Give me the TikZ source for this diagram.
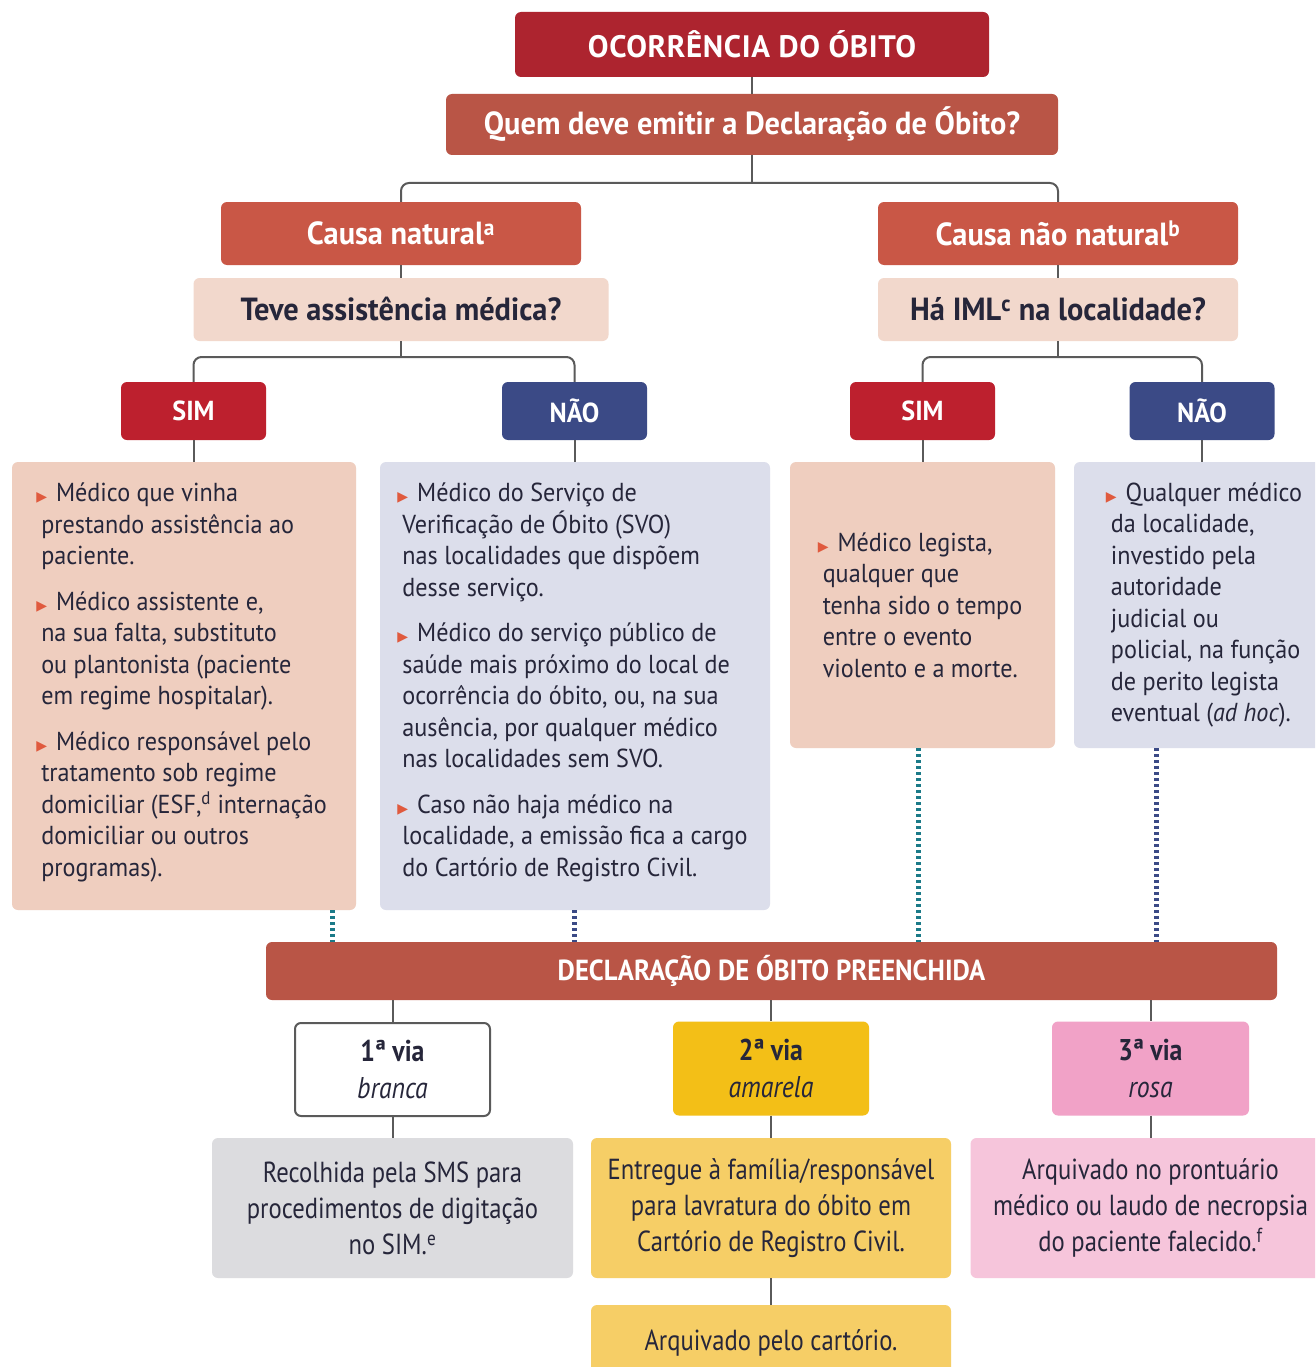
\documentclass[tikz,border=0pt]{standalone}
\usepackage{fontspec}
\setmainfont{PT Sans}
\newfontfamily\bodyf[FakeStretch=0.93]{PT Sans}
\newfontfamily\headf[FakeStretch=0.95]{PT Sans}
\newfontfamily\capsf[LetterSpace=2]{PT Sans}
\newfontfamily\declf[FakeStretch=0.92]{PT Sans}
\newfontfamily\viaf[FakeStretch=0.86]{PT Sans}
\newfontfamily\condf[FakeStretch=0.85]{PT Sans}
\newfontfamily\symf{DejaVu Sans}
\definecolor{cOcorr}{HTML}{AD242F}
\definecolor{cQuem}{HTML}{B95546}
\definecolor{cCausa}{HTML}{C95746}
\definecolor{cQuest}{HTML}{F2D8CC}
\definecolor{cSim}{HTML}{BD202E}
\definecolor{cNao}{HTML}{3B4A86}
\definecolor{cPinkBox}{HTML}{EFCEBF}
\definecolor{cBlueBox}{HTML}{DCDEEB}
\definecolor{cVia2}{HTML}{F3BF17}
\definecolor{cVia3}{HTML}{F1A2C7}
\definecolor{cGreyBox}{HTML}{DCDCDF}
\definecolor{cYelBox}{HTML}{F6CE66}
\definecolor{cRoseBox}{HTML}{F6C5DB}
\definecolor{cText}{HTML}{26263A}
\definecolor{cBul}{HTML}{E05A3E}
\definecolor{cTeal}{HTML}{1B7A88}
\definecolor{cLine}{HTML}{5A5A5A}
\newcommand{\bul}{\hspace*{-5pt}{\symf\fontsize{14}{14}\selectfont\textcolor{cBul}{▶}}\hspace{9pt}}
\newcommand{\pgap}{\\[14pt]}
\newcommand{\liftup}{\\[-19pt]\mbox{}}
\begin{document}
\begin{tikzpicture}[x=1pt,y=-1pt,
  box/.style={rounded corners=6pt, inner sep=0pt, align=center},
  hdr/.style={box, text=white, font=\headf\bfseries\fontsize{32}{36}\selectfont},
  quest/.style={box, fill=cQuest, text=cText, font=\headf\bfseries\fontsize{32}{36}\selectfont},
  yn/.style={box, text=white, minimum width=145pt, minimum height=58pt, font=\headf\bfseries\fontsize{27.5}{30}\selectfont},
  content/.style={box, align=left, text=cText, font=\bodyf\fontsize{26}{31.5}\selectfont},
  via/.style={box, text=cText, minimum height=94pt, font=\viaf\fontsize{30}{37}\selectfont},
  dest/.style={box, text=cText, minimum width=360pt, minimum height=140pt, font=\condf\fontsize{29}{36}\selectfont},
  conn/.style={draw=cLine, line width=2pt},
  dotsT/.style={draw=cTeal, line width=5pt, dash pattern=on 3pt off 3pt},
  dotsN/.style={draw=cNao, line width=5pt, dash pattern=on 3pt off 3pt}
]
\clip (0,0) rectangle (1315,1367);
\fill[white] (0,0) rectangle (1315,1367);

% top
\node[hdr, fill=cOcorr, minimum width=474pt, minimum height=65pt, font=\capsf\bfseries\fontsize{31}{36}\selectfont] (ocorr) at (752,44.5) {OCORRÊNCIA DO ÓBITO};
\node[hdr, fill=cQuem, minimum width=612pt, minimum height=61pt] (quem) at (752,124.5) {Quem deve emitir a Declaração de Óbito?};
\node[hdr, fill=cCausa, minimum width=360pt, minimum height=63pt] (causaN) at (401,233.5) {Causa natural\textsuperscript{a}};
\node[hdr, fill=cCausa, minimum width=360pt, minimum height=63pt] (causaNN) at (1058,233.5) {Causa não natural\textsuperscript{b}};
\node[quest, minimum width=415pt, minimum height=63pt] (teve) at (401,309.5) {Teve assistência médica?};
\node[quest, minimum width=360pt, minimum height=63pt] (iml) at (1058,309.5) {Há IML\textsuperscript{c} na localidade?};

\node[yn, fill=cSim] (sim1) at (193.5,411) {SIM};
\node[yn, fill=cNao] (nao1) at (574.5,411) {NÃO};
\node[yn, fill=cSim] (sim2) at (922.5,411) {SIM};
\node[yn, fill=cNao] (nao2) at (1202,411) {NÃO};

\node[content, fill=cPinkBox, minimum width=344pt, minimum height=448pt] (c1) at (184,686) {%
\bul Médico que vinha\\
prestando assistência ao\\
paciente.\pgap
\bul Médico assistente e,\\
na sua falta, substituto\\
ou plantonista (paciente\\
em regime hospitalar).\pgap
\bul Médico responsável pelo\\
tratamento sob regime\\
domiciliar (ESF,\textsuperscript{d} internação\\
domiciliar ou outros\\
programas).\liftup};

\node[content, fill=cBlueBox, minimum width=390pt, minimum height=448pt] (c2) at (575,686) {%
\bul Médico do Serviço de\\
Verificação de Óbito (SVO)\\
nas localidades que dispõem\\
desse serviço.\pgap
\bul Médico do serviço público de\\
saúde mais próximo do local de\\
ocorrência do óbito, ou, na sua\\
ausência, por qualquer médico\\
nas localidades sem SVO.\pgap
\bul Caso não haja médico na\\
localidade, a emissão fica a cargo\\
do Cartório de Registro Civil.\liftup};

\node[content, fill=cPinkBox, minimum width=265pt, minimum height=286pt] (c3) at (922.5,605) {%
\bul Médico legista,\\
qualquer que\\
tenha sido o tempo\\
entre o evento\\
violento e a morte.};

\node[content, fill=cBlueBox, minimum width=265pt, minimum height=286pt] (c4) at (1206.5,605) {%
\bul Qualquer médico\\
da localidade,\\
investido pela\\
autoridade\\
judicial ou\\
policial, na função\\
de perito legista\\
eventual (\textit{ad hoc}).};

\node[hdr, fill=cQuem, minimum width=1011pt, minimum height=58pt, font=\declf\bfseries\fontsize{29}{32}\selectfont] (decl) at (771.5,971) {DECLARAÇÃO DE ÓBITO PREENCHIDA};

\node[via, fill=white, draw=cLine, line width=2pt, minimum width=195pt, minimum height=93pt] (v1) at (392.5,1069.5) {\textbf{1ª via}\\ \textit{branca}};
\node[via, fill=cVia2, minimum width=196pt] (v2) at (771,1068.5) {\textbf{2ª via}\\ \textit{amarela}};
\node[via, fill=cVia3, minimum width=197pt] (v3) at (1150.5,1068.5) {\textbf{3ª via}\\ \textit{rosa}};

\node[dest, fill=cGreyBox, minimum width=361pt] (b1) at (392.5,1208) {Recolhida pela SMS para\\ procedimentos de digitação\\ no SIM.\textsuperscript{e}};
\node[dest, fill=cYelBox] (b2) at (771,1208) {Entregue à família/responsável\\ para lavratura do óbito em\\ Cartório de Registro Civil.};
\node[dest, fill=cRoseBox] (b3) at (1150.5,1208) {Arquivado no prontuário\\ médico ou laudo de necropsia\\ do paciente falecido.\textsuperscript{f}};
\node[dest, fill=cYelBox, minimum height=70pt, text depth=0pt] (b4) at (771,1340) {Arquivado pelo cartório.};

% junction coordinates
\coordinate (j1) at (752,183);
\coordinate (j2) at (401,357);
\coordinate (j3) at (1058,357);
\coordinate (d1) at (332,0);
\coordinate (d2) at (574,0);
\coordinate (d3) at (918,0);
\coordinate (d4) at (1156,0);

% connectors
\draw[conn] (ocorr.south) -- (quem.north);
\draw[conn] (quem.south) -- (quem.south |- j1);
\draw[conn, rounded corners=8pt] (causaN.north) -- (causaN.north |- j1) -- (causaNN.north |- j1) -- (causaNN.north);
\draw[conn] (causaN.south) -- (teve.north);
\draw[conn] (causaNN.south) -- (iml.north);
\draw[conn] (teve.south) -- (j2);
\draw[conn] (iml.south) -- (j3);
\draw[conn, rounded corners=8pt] (sim1.north) -- (sim1.north |- j2) -- (nao1.north |- j2) -- (nao1.north);
\draw[conn, rounded corners=8pt] (sim2.north) -- (sim2.north |- j3) -- (nao2.north |- j3) -- (nao2.north);
\draw[conn] (sim1.south) -- (sim1.south |- c1.north);
\draw[conn] (nao1.south) -- (nao1.south |- c2.north);
\draw[conn] (sim2.south) -- (sim2.south |- c3.north);
\draw[conn] (nao2.south) -- (nao2.south |- c4.north);

\draw[dotsT] (c1.south -| d1) -- (decl.north -| d1);
\draw[dotsN] (c2.south -| d2) -- (decl.north -| d2);
\draw[dotsT] (c3.south -| d3) -- (decl.north -| d3);
\draw[dotsN] (c4.south -| d4) -- (decl.north -| d4);

\draw[conn] (v1.north |- decl.south) -- (v1.north);
\draw[conn] (v2.north |- decl.south) -- (v2.north);
\draw[conn] (v3.north |- decl.south) -- (v3.north);
\draw[conn] (v1.south) -- (b1.north);
\draw[conn] (v2.south) -- (b2.north);
\draw[conn] (v3.south) -- (b3.north);
\draw[conn] (b2.south) -- (b4.north);
\end{tikzpicture}
\end{document}
